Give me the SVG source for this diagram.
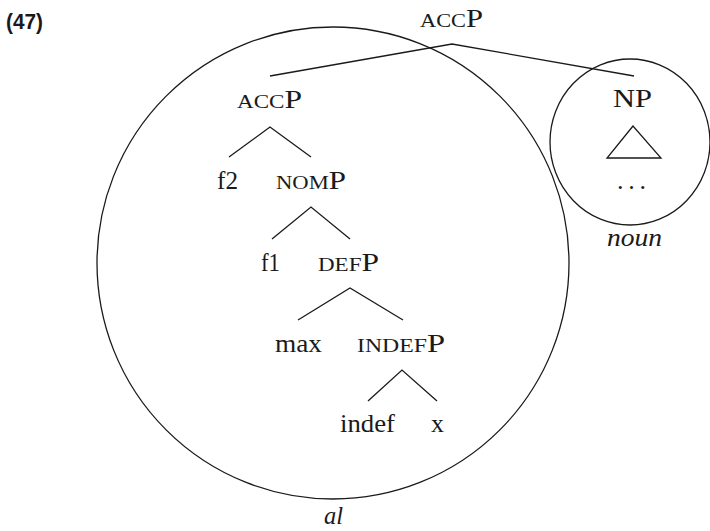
<svg xmlns="http://www.w3.org/2000/svg" width="710" height="531" viewBox="0 0 710 531">
<style>
.t{font-family:'Liberation Serif','Times New Roman',serif;font-size:26px;fill:#1a1a1a}
.sc{font-size:19px}
.it{font-style:italic}
.num{font-family:'Liberation Sans',Arial,sans-serif;font-weight:bold;font-size:22px;fill:#1a1a1a}
.ln{fill:none;stroke:#1a1a1a;stroke-width:1.3}
</style>
<rect width="710" height="531" fill="#ffffff"/>
<text class="num" x="6" y="29" textLength="37" lengthAdjust="spacingAndGlyphs">(47)</text>
<g id="circles">
<circle class="ln" cx="333" cy="263" r="236"/>
<ellipse class="ln" cx="630" cy="142" rx="80" ry="83"/>
</g>
<g id="connectors">
<polyline class="ln" points="270,76 452,44 634,76"/>
<polyline class="ln" points="229,157 270,127 311,157"/>
<polyline class="ln" points="272,239 311,207 350,239"/>
<polyline class="ln" points="298,320 350,288 403,320"/>
<polyline class="ln" points="368,401 402,370 437,401"/>
</g>
<g id="root"><text class="t" x="420" y="27" textLength="63" lengthAdjust="spacingAndGlyphs"><tspan class="sc">ACC</tspan>P</text></g>
<g id="accP"><text class="t" x="237" y="108" textLength="65" lengthAdjust="spacingAndGlyphs"><tspan class="sc">ACC</tspan>P</text></g>
<g id="NP"><text class="t" x="613" y="107" textLength="39" lengthAdjust="spacingAndGlyphs">NP</text>
<polygon class="ln" points="633,126 607,158 661,158"/>
<text class="t" x="617" y="189" textLength="29">. . .</text>
</g>
<g id="f2"><text class="t" x="217" y="189" textLength="21" lengthAdjust="spacingAndGlyphs">f2</text></g>
<g id="nomP"><text class="t" x="276" y="189" textLength="70" lengthAdjust="spacingAndGlyphs"><tspan class="sc">NOM</tspan>P</text></g>
<g id="f1"><text class="t" x="261" y="271" textLength="19" lengthAdjust="spacingAndGlyphs">f1</text></g>
<g id="defP"><text class="t" x="318" y="271" textLength="61" lengthAdjust="spacingAndGlyphs"><tspan class="sc">DEF</tspan>P</text></g>
<g id="max"><text class="t" x="275" y="352" textLength="47" lengthAdjust="spacingAndGlyphs">max</text></g>
<g id="indefP"><text class="t" x="357" y="352" textLength="88" lengthAdjust="spacingAndGlyphs"><tspan class="sc">INDEF</tspan>P</text></g>
<g id="indef"><text class="t" x="340" y="432" textLength="55" lengthAdjust="spacingAndGlyphs">indef</text></g>
<g id="x"><text class="t" x="431" y="432" textLength="13" lengthAdjust="spacingAndGlyphs">x</text></g>
<g id="al"><text class="t it" x="324" y="524" textLength="19" lengthAdjust="spacingAndGlyphs">al</text></g>
<g id="noun"><text class="t it" x="607" y="246" textLength="55" lengthAdjust="spacingAndGlyphs">noun</text></g>
</svg>
